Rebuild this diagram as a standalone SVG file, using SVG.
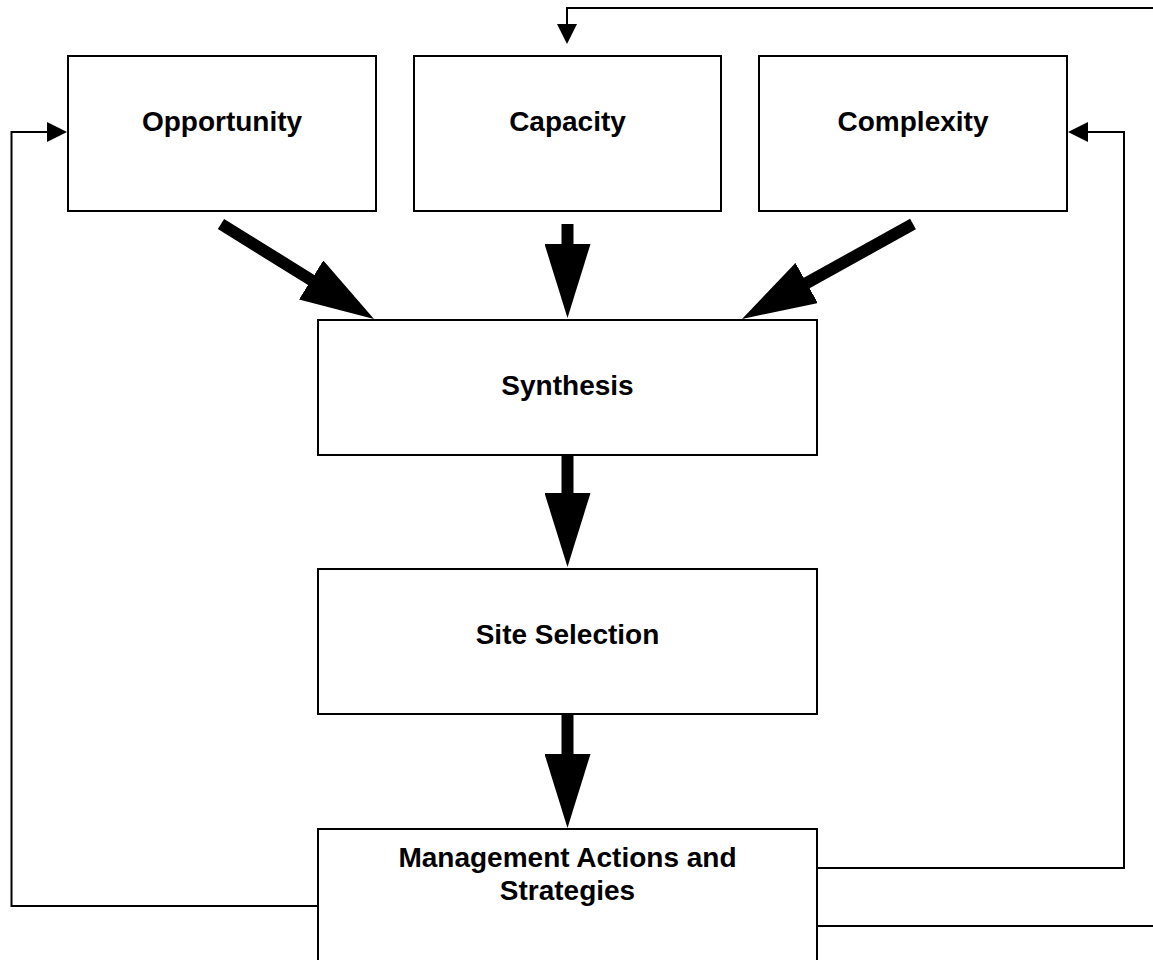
<svg xmlns="http://www.w3.org/2000/svg" width="1153" height="960" viewBox="0 0 1153 960">
  <style>
    .box { fill: #ffffff; stroke: #000000; stroke-width: 2; }
    .lbl { font-family: "Liberation Sans", Arial, sans-serif; font-weight: bold; font-size: 28px; fill: #000000; text-anchor: middle; }
    .thick { fill: none; stroke: #000000; stroke-width: 12; stroke-linecap: butt; marker-end: url(#bigHead); }
    .thin { fill: none; stroke: #000000; stroke-width: 2; }
    .thinArrow { fill: none; stroke: #000000; stroke-width: 2; marker-end: url(#smallHead); }
  </style>
  <defs>
    <marker id="bigHead" markerUnits="userSpaceOnUse" viewBox="0 0 74 46" markerWidth="74" markerHeight="46" refX="1" refY="23" orient="auto">
      <path d="M0,0 L74,23 L0,46 Z" fill="#000000"/>
    </marker>
    <marker id="smallHead" markerUnits="userSpaceOnUse" viewBox="0 0 20 20" markerWidth="20" markerHeight="20" refX="1" refY="10" orient="auto">
      <path d="M0,0 L20,10 L0,20 Z" fill="#000000"/>
    </marker>
  </defs>

  <rect x="0" y="0" width="1153" height="960" fill="#ffffff"/>

  <g id="connectors">
    <path class="thick" d="M221,224 L312,280.5"/>
    <path class="thick" d="M567.5,224 L567.5,245"/>
    <path class="thick" d="M913,224 L805.8,283.5"/>
    <path class="thick" d="M567.5,455 L567.5,494"/>
    <path class="thick" d="M567.5,714 L567.5,755"/>
    <path class="thinArrow" d="M1153,8 H567 V25"/>
    <path class="thinArrow" d="M817,868 H1124 V132 H1087"/>
    <path class="thinArrow" d="M318,906 H11.5 V132 H48"/>
    <path class="thin" d="M817,926 H1153"/>
  </g>

  <g id="opportunity">
    <rect class="box" x="68" y="56" width="308" height="155"/>
    <text class="lbl" x="222" y="131">Opportunity</text>
  </g>
  <g id="capacity">
    <rect class="box" x="414" y="56" width="307" height="155"/>
    <text class="lbl" x="567.5" y="131">Capacity</text>
  </g>
  <g id="complexity">
    <rect class="box" x="759" y="56" width="308" height="155"/>
    <text class="lbl" x="913" y="131">Complexity</text>
  </g>
  <g id="synthesis">
    <rect class="box" x="318" y="320" width="499" height="135"/>
    <text class="lbl" x="567.5" y="395">Synthesis</text>
  </g>
  <g id="site-selection">
    <rect class="box" x="318" y="569" width="499" height="145"/>
    <text class="lbl" x="567.5" y="644">Site Selection</text>
  </g>
  <g id="management">
    <rect class="box" x="318" y="829" width="499" height="160"/>
    <text class="lbl" x="567.5" y="867">Management Actions and</text>
    <text class="lbl" x="567.5" y="900">Strategies</text>
  </g>
</svg>
